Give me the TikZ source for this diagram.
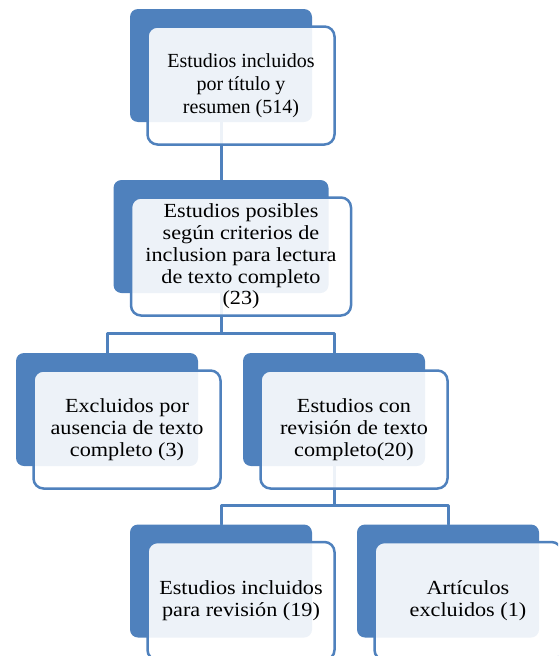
\documentclass[tikz,border=0pt]{standalone}
\usepackage{fontspec}
\setmainfont{Liberation Serif}
\newfontfamily\cambriafont[FakeStretch=1.11]{Liberation Serif}
\usepackage{tikz}
\usetikzlibrary{calc}

\definecolor{smartblue}{RGB}{79,129,189}

\begin{document}
\begin{tikzpicture}[x=1pt, y=-1pt, line cap=round, line join=round,
    backbox/.style={fill=smartblue, rounded corners=8pt, inner sep=0pt,
      minimum width=182pt, minimum height=113pt},
    frontbox/.style={draw=smartblue, line width=2.5pt, fill=white, fill opacity=0.9,
      text opacity=1, rounded corners=10pt, inner sep=0pt, align=center,
      minimum width=187pt, minimum height=118pt,
      font=\cambriafont\fontsize{20}{21.8}\selectfont},
    link/.style={draw=smartblue, line width=3pt}]
    \clip (0,0) rectangle (558,656);

    % back boxes
    \node[backbox]                    (b1) at (221,65.5)  {};
    \node[backbox, minimum width=215pt] (b2) at (221,236.5) {};
    \node[backbox]                    (b3) at (107,409.5) {};
    \node[backbox]                    (b4) at (334,409.5) {};
    \node[backbox]                    (b5) at (221,581)   {};
    \node[backbox]                    (b6) at (448,581)   {};

    %--- connectors of the tree
    \draw[link] (b1.south) -- (b2.north);
    \draw[link] (b2.south) -- ++(0,40) coordinate (j2) -| (b3.north);
    \draw[link] (j2) -| (b4.north);
    \draw[link] (b4.south) -- ++(0,39) coordinate (j4) -| (b5.north);
    \draw[link] (j4) -| (b6.north);

    %--- front boxes with the texts
    \node[frontbox, font=\fontsize{20}{23.3}\selectfont] (f1) at ($(b1)+(20,20)$)
      {Estudios incluidos\\por título y\\resumen (514)};
    \node[frontbox, minimum width=220pt] (f2) at ($(b2)+(20,20)$)
      {Estudios posibles\\según criterios de\\inclusion para lectura\\de texto completo\\(23)};
    \node[frontbox] (f3) at ($(b3)+(20,20)$)
      {Excluidos por\\ausencia de texto\\completo (3)};
    \node[frontbox] (f4) at ($(b4)+(20,20)$)
      {Estudios con\\revisión de texto\\completo(20)};
    \node[frontbox] (f5) at ($(b5)+(20,20)$)
      {Estudios incluidos\\para revisión (19)};
    \node[frontbox] (f6) at ($(b6)+(20,20)$)
      {Artículos\\excluidos (1)};
  \end{tikzpicture}
\end{document}
